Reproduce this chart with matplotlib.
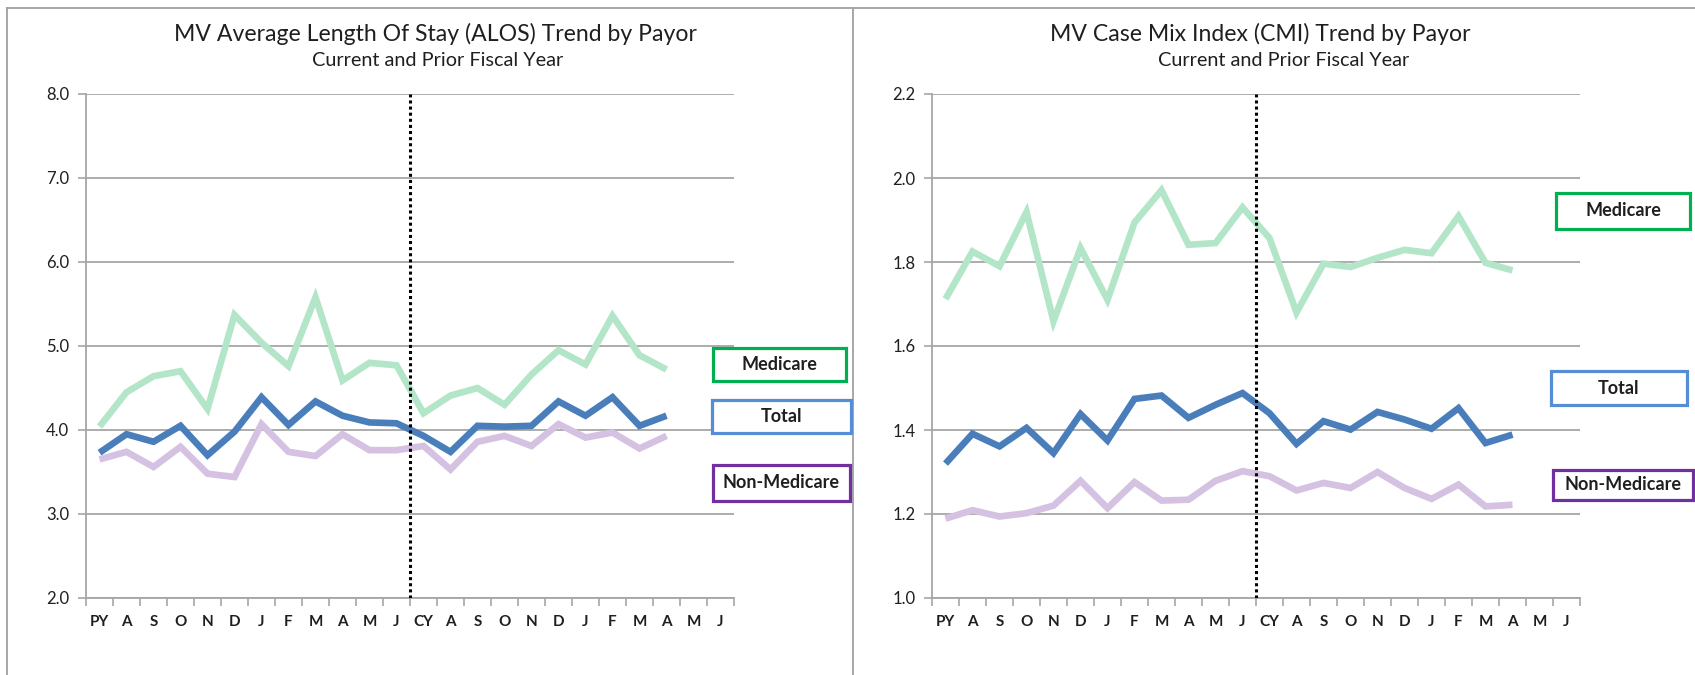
import matplotlib
matplotlib.use("Agg")
import matplotlib.pyplot as plt
from matplotlib.patches import Rectangle
from matplotlib.lines import Line2D
from matplotlib.ticker import FixedLocator, NullFormatter

plt.rcParams['font.family'] = ['Lato', 'DejaVu Sans']

months = ["PY", "A", "S", "O", "N", "D", "J", "F", "M", "A", "M", "J",
          "CY", "A", "S", "O", "N", "D", "J", "F", "M", "A", "M", "J"]

alos_medicare = [4.04, 4.45, 4.64, 4.70, 4.25, 5.37, 5.04, 4.76, 5.58, 4.59, 4.80, 4.77,
                 4.20, 4.41, 4.50, 4.30, 4.66, 4.95, 4.78, 5.36, 4.89, 4.72]
alos_total = [3.73, 3.95, 3.86, 4.05, 3.70, 3.98, 4.39, 4.06, 4.34, 4.17, 4.09, 4.08,
              3.93, 3.74, 4.05, 4.04, 4.05, 4.34, 4.17, 4.39, 4.05, 4.17]
alos_nonmed = [3.65, 3.74, 3.56, 3.80, 3.48, 3.44, 4.07, 3.74, 3.69, 3.95, 3.76, 3.76,
               3.81, 3.53, 3.86, 3.93, 3.81, 4.07, 3.91, 3.97, 3.78, 3.93]

cmi_medicare = [1.712, 1.825, 1.790, 1.919, 1.659, 1.833, 1.710, 1.894, 1.971, 1.841, 1.845, 1.930,
                1.857, 1.680, 1.796, 1.788, 1.810, 1.829, 1.821, 1.909, 1.798, 1.780]
cmi_total = [1.320, 1.391, 1.361, 1.405, 1.345, 1.438, 1.375, 1.474, 1.482, 1.429, 1.460, 1.488,
             1.440, 1.367, 1.421, 1.401, 1.443, 1.425, 1.403, 1.452, 1.369, 1.389]
cmi_nonmed = [1.189, 1.209, 1.194, 1.202, 1.220, 1.279, 1.214, 1.276, 1.232, 1.234, 1.279, 1.302,
              1.290, 1.256, 1.274, 1.262, 1.300, 1.262, 1.236, 1.270, 1.218, 1.222]

alos_ticks = [2.0, 3.0, 4.0, 5.0, 6.0, 7.0, 8.0]
cmi_ticks = [1.0, 1.2, 1.4, 1.6, 1.8, 2.0, 2.2]

titles = ["MV Average Length Of Stay (ALOS) Trend by Payor", "MV Case Mix Index (CMI) Trend by Payor"]
subtitle = "Current and Prior Fiscal Year"
legend_names = ["Medicare", "Total", "Non-Medicare"]

C_MED = "#b3e6c8"
C_TOT = "#4a7ebb"
C_NON = "#d5c1e2"
E_MED = "#00b050"
E_TOT = "#558ed5"
E_NON = "#7030a0"
GRID = "#a6a6a6"
TXT = "#1f1f1f"

W, H = 1695, 675
fig = plt.figure(figsize=(W / 100, H / 100), dpi=100)


def fx(px):
    return px / W


def fy(py):
    return 1 - py / H


def make_axes(x0, data, ticks, fmt, title, tcx, scx):
    ax = fig.add_axes([fx(x0), fy(598), fx(648), (598 - 94) / H])
    xs = list(range(len(data[0])))
    cols = [C_MED, C_TOT, C_NON]
    for series, c in zip(data, cols):
        ax.plot(xs, series, color=c, lw=4.8, solid_joinstyle='miter', solid_capstyle='butt', zorder=3)
    ax.axvline(11.5, color='black', lw=2.2, ls=(0, (1, 1)), zorder=4)
    ax.set_xlim(-0.5, len(months) - 0.5)
    ax.set_ylim(ticks[0], ticks[-1])
    ax.set_yticks(ticks)
    ax.set_yticklabels([fmt.format(t) for t in ticks], fontsize=12, color=TXT)
    ax.xaxis.set_major_locator(FixedLocator(list(range(len(months)))))
    ax.set_xticklabels(months, fontsize=11, fontweight='bold', color=TXT)
    ax.xaxis.set_minor_locator(FixedLocator([i - 0.5 for i in range(len(months) + 1)]))
    ax.xaxis.set_minor_formatter(NullFormatter())
    ax.tick_params(axis='x', which='major', length=0, pad=12)
    ax.tick_params(axis='x', which='minor', length=6, width=1.2, color=GRID, direction='out')
    ax.tick_params(axis='y', length=6, width=1.2, color=GRID, direction='out', pad=6)
    ax.grid(axis='y', color=GRID, lw=1.3, zorder=1)
    for s in ['top', 'right']:
        ax.spines[s].set_visible(False)
    for s in ['left', 'bottom']:
        ax.spines[s].set_color(GRID)
        ax.spines[s].set_linewidth(1.3)
    fig.text(fx(tcx), fy(34), title, ha='center', va='center', fontsize=16.6, color=TXT)
    fig.text(fx(scx), fy(61), subtitle, ha='center', va='center', fontsize=14.3, color=TXT)
    return ax


make_axes(86, [alos_medicare, alos_total, alos_nonmed], alos_ticks, "{:.1f}", titles[0], 435, 438)
make_axes(932, [cmi_medicare, cmi_total, cmi_nonmed], cmi_ticks, "{:.1f}", titles[1], 1260, 1284)

boxes = [
    (713, 348, 846, 381, E_MED, legend_names[0]),
    (712, 400, 851, 433, E_TOT, legend_names[1]),
    (713, 465, 850, 501, E_NON, legend_names[2]),
    (1556, 193, 1690, 229, E_MED, legend_names[0]),
    (1551, 371, 1687, 405, E_TOT, legend_names[1]),
    (1553, 470, 1693, 500, E_NON, legend_names[2]),
]
for x0, y0, x1, y1, ec, name in boxes:
    r = Rectangle((fx(x0), fy(y1)), fx(x1 - x0), (y1 - y0) / H, transform=fig.transFigure,
                  facecolor='white', edgecolor=ec, lw=2.3, zorder=5)
    fig.add_artist(r)
    fig.text(fx((x0 + x1) / 2), fy((y0 + y1) / 2), name, ha='center', va='center',
             fontsize=13, fontweight='bold', color=TXT, zorder=6)

# panel borders
BORDER = "#a0a0a0"
fig.add_artist(Line2D([fx(7), fx(W)], [fy(7.5), fy(7.5)], transform=fig.transFigure, color=BORDER, lw=1.3))
fig.add_artist(Line2D([fx(7.3), fx(7.3)], [fy(7.5), fy(H)], transform=fig.transFigure, color=BORDER, lw=1.3))
fig.add_artist(Line2D([fx(853), fx(853)], [fy(7.5), fy(H)], transform=fig.transFigure, color=BORDER, lw=1.3))

fig.savefig("out.png", dpi=100, facecolor='white')
